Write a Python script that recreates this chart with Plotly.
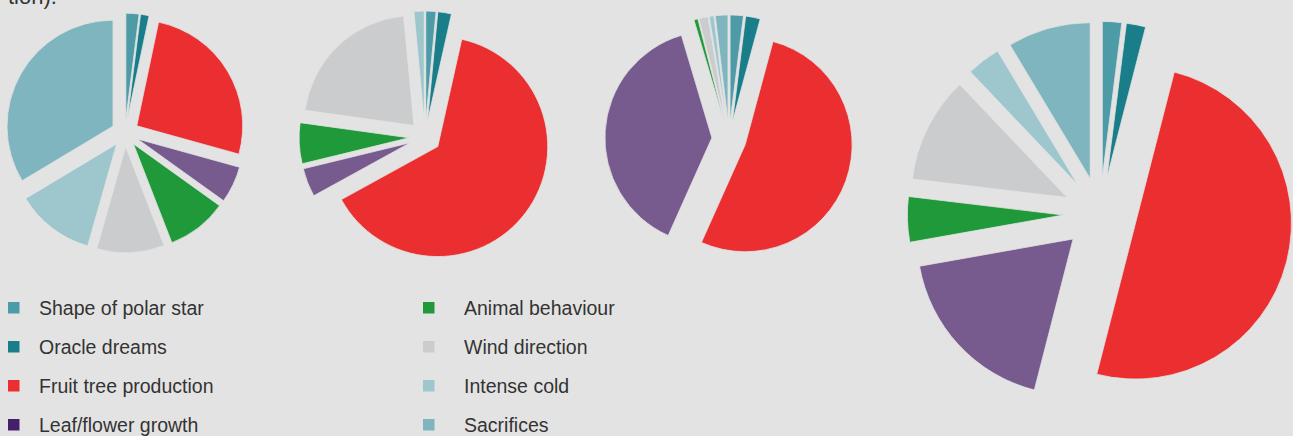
import plotly.graph_objects as go

categories = ["Shape of polar star", "Oracle dreams", "Fruit tree production",
              "Leaf/flower growth", "Animal behaviour", "Wind direction",
              "Intense cold", "Sacrifices"]
slice_colors = ["#4e9ba8", "#1a7e8a", "#eb2f30", "#775b8f",
                "#1f9939", "#cbccce", "#9dc7cd", "#7fb5be"]
legend_colors = ["#4e9ba8", "#1a7e8a", "#eb2f30", "#461f6b",
                 "#1f9939", "#cbccce", "#9dc7cd", "#7fb5be"]

pie1_values = [2.0, 1.3, 26.0, 5.6, 9.2, 10.3, 12.0, 33.6]
pie2_values = [1.5, 2.0, 63.5, 4.2, 6.0, 21.3, 1.5, 0.0]
pie3_values = [2.0, 2.2, 52.5, 38.7, 0.6, 1.4, 0.7, 1.9]
pie4_values = [2.0, 2.0, 50.0, 18.2, 4.7, 11.0, 3.5, 8.6]

W, H = 1293, 436
BG = "#e3e3e3"

# pie layout: (center x px, center y px, radius px, pull)
pies = [
    (pie1_values, 125, 133, 106, 0.13),
    (pie2_values, 425, 137, 110, 0.145),
    (pie3_values, 729, 139, 107, 0.16),
    (pie4_values, 1100, 214, 156, 0.235),
]

fig = go.Figure()
for vals, cx, cy, r, p in pies:
    half = r * (1 + p)
    x0 = max(0.0, (cx - half) / W)
    x1 = min(1.0, (cx + half) / W)
    y0 = max(0.0, 1 - (cy + half) / H)
    y1 = min(1.0, 1 - (cy - half) / H)
    fig.add_trace(go.Pie(
        labels=categories, values=vals, sort=False, direction="clockwise",
        rotation=0, pull=[p] * len(vals), textinfo="none", hoverinfo="label+percent",
        marker=dict(colors=slice_colors, line=dict(color=BG, width=0.8)),
        domain=dict(x=[x0, x1], y=[y0, y1]), showlegend=False,
    ))

# manual two-column legend
shapes = []
annotations = []
marker_x = [8, 423]
text_x = [37, 462]
row_y = [308, 347, 386, 425]
for i, (name, col) in enumerate(zip(categories, legend_colors)):
    c, rw = divmod(i, 4)
    mx, my = marker_x[c], row_y[rw]
    shapes.append(dict(type="rect", xref="paper", yref="paper",
                       x0=mx / W, x1=(mx + 11.5) / W,
                       y0=1 - (my + 5.5) / H, y1=1 - (my - 6) / H,
                       fillcolor=col, line=dict(width=0)))
    annotations.append(dict(text=name, xref="paper", yref="paper",
                            x=text_x[c] / W, y=1 - my / H, xanchor="left",
                            yanchor="middle", showarrow=False,
                            font=dict(family="Liberation Sans, Arial, sans-serif",
                                      size=19.5, color="#333333")))

annotations.append(dict(text="tion).", xref="paper", yref="paper", x=6 / W, y=1 - 10.5 / H,
                        xanchor="left", yanchor="bottom", showarrow=False,
                        font=dict(family="Liberation Sans, Arial, sans-serif",
                                  size=22, color="#333333")))

fig.update_layout(
    width=W, height=H, margin=dict(l=0, r=0, t=0, b=0),
    paper_bgcolor=BG, plot_bgcolor=BG,
    shapes=shapes, annotations=annotations,
)

fig.write_html("out.html")
